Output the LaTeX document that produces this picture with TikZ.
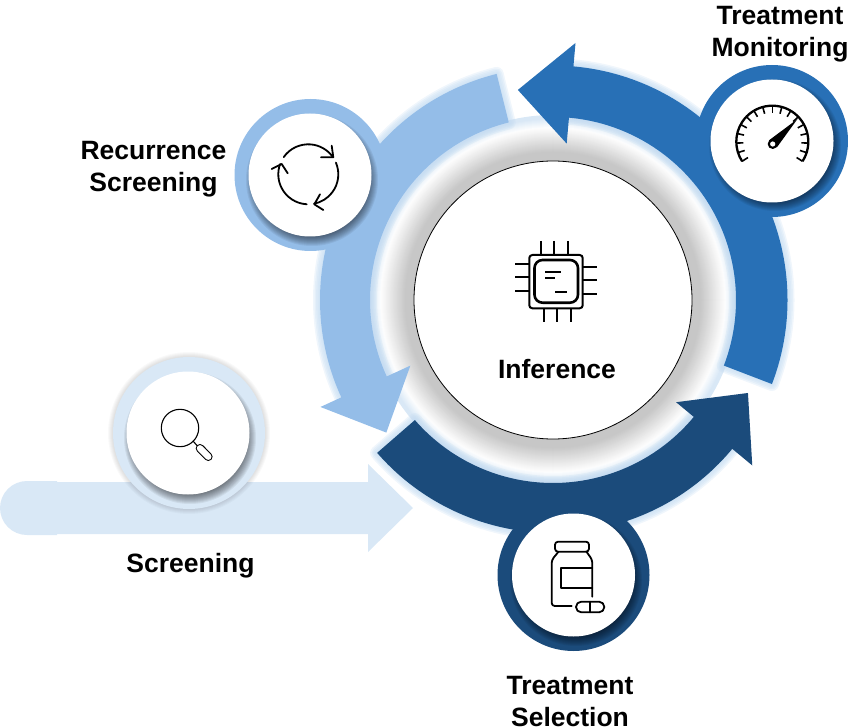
\documentclass[tikz,border=0pt]{standalone}
\usepackage{fontspec}
\setmainfont{Liberation Sans}
\definecolor{cmid}{HTML}{2870B6}
\definecolor{clight}{HTML}{94BDE8}
\definecolor{cdark}{HTML}{1B4B7B}
\definecolor{cpale}{HTML}{D9E8F6}
\definecolor{cglow}{HTML}{C4DCF2}
\tikzset{
  lab/.style={font=\fontsize{26.5}{32}\selectfont\bfseries,align=center,inner sep=0pt,text=black},
  ringnode/.style={circle,minimum size=152pt,inner sep=0pt,outer sep=0pt},
  whitenode/.style={circle,fill=white,minimum size=123pt,inner sep=0pt,outer sep=0pt},
  ico/.style={draw=black,line width=1.8pt,line cap=round,line join=round},
  icot/.style={draw=black,line width=1.1pt,line cap=round,line join=round},
}
% shadow below a white disc
\newcommand{\discshadow}[3]{%
  \foreach \k in {0,...,9}{%
    \pgfmathsetmacro{\rr}{#3+5-\k*1.0}%
    \fill[black,opacity=0.06] (#1,#2) circle[radius=\rr pt];
  }}
% glow of the band part, then the fill of the whole ring-arrow
\newcommand{\glowarrow}[3]{%
  \foreach \w in {14,11,8,5,2}{%
    \draw[cglow,line width=\w pt,opacity=0.26,line join=round] #2;
  }
  \fill[#1] #3;
}
\begin{document}
\begin{tikzpicture}[x=1pt,y=-1pt]
\useasboundingbox (0,0) rectangle (848,727);

% grey ring around the hub
\foreach \r in {185,184,...,172}{%
  \pgfmathsetmacro{\p}{max(0,min(100,(\r-172)*10))}%
  \fill[cpale!\p!white] (553,300) circle[radius=\r pt];
}
\foreach \r in {172,171,...,148}{%
  \pgfmathsetmacro{\p}{1+(172-\r)*0.88}%
  \fill[black!\p!white] (553,300) circle[radius=\r pt];
}

% screening arrow
\fill[cpale] (57,481) -- (57,535) -- (27,535) arc[start angle=270,end angle=90,radius=27pt] -- cycle;
\fill[cpale] (40,482) -- (368,482) -- (368,464) -- (413,508) -- (368,552) -- (368,534) -- (40,534) -- cycle;

% hub
\node[circle,draw=black,line width=0.8pt,fill=white,minimum size=278pt,inner sep=0pt] (hub) at (553,300) {};

% ring arrows
\begin{scope}[shift={(553,300)},x=1pt,y=1pt]
\glowarrow{cmid}{(-21:234.5pt) arc[start angle=-21,end angle=85,radius=234.5pt] -- (85:183pt) arc[start angle=85,end angle=-21,radius=183pt] -- cycle}{(-21:234.5pt) arc[start angle=-21,end angle=85,radius=234.5pt] -- (85:258pt) -- (99.5:213pt) -- (85:157pt) -- (85:183pt) arc[start angle=85,end angle=-21,radius=183pt] -- cycle}
\glowarrow{clight}{(104:233pt) arc[start angle=104,end angle=204.7,radius=233pt] -- (204.7:183pt) arc[start angle=204.7,end angle=104,radius=183pt] -- cycle}{(104:233pt) arc[start angle=104,end angle=204.7,radius=233pt] -- (204.7:256pt) -- (218.5:213pt) -- (204.7:157pt) -- (204.7:183pt) arc[start angle=204.7,end angle=104,radius=183pt] -- cycle}
\glowarrow{cdark}{(221:233pt) arc[start angle=221,end angle=320.3,radius=233pt] -- (320.3:183pt) arc[start angle=320.3,end angle=221,radius=183pt] -- cycle}{(221:233pt) arc[start angle=221,end angle=320.3,radius=233pt] -- (320.3:259pt) -- (334.5:216pt) -- (320.3:160pt) -- (320.3:183pt) arc[start angle=320.3,end angle=221,radius=183pt] -- cycle}
\end{scope}

% badges
\foreach \k in {0,...,5}{%
  \pgfmathsetmacro{\rr}{81-\k*1.0}%
  \fill[black,opacity=0.022] (189,433) circle[radius=\rr pt];
}
\node[ringnode,fill=cpale] (scrring) at (189,433) {};
\node[ringnode,fill=clight] (recring) at (310.5,175) {};
\node[ringnode,fill=cmid] (monring) at (772,141) {};
\node[ringnode,fill=cdark] (selring) at (573.5,575) {};

\begin{scope}
\clip (189,433) circle[radius=76pt];
\discshadow{190}{438}{61}
\end{scope}
\begin{scope}
\clip (310.5,175) circle[radius=76pt];
\discshadow{312}{180}{61}
\end{scope}
\begin{scope}
\clip (772,141) circle[radius=76pt];
\discshadow{775}{145}{61}
\end{scope}
\begin{scope}
\clip (573.5,575) circle[radius=76pt];
\discshadow{576}{580}{61}
\end{scope}

\node[whitenode] (scr) at (188,433) {};
\node[whitenode] (rec) at (310,175) {};
\node[whitenode] (mon) at (772,141) {};
\node[whitenode] (sel) at (573.5,575) {};

% chip icon
\draw[ico,line width=2pt,rounded corners=3pt] (529.3,255) rectangle (582.7,308.3);
\draw[ico,line width=2.6pt,rounded corners=8pt] (534.5,260) rectangle (578,302.7);
\foreach \xx in {541,554.3,568}{\draw[black,line width=2.2pt] (\xx,241) -- (\xx,255);}
\foreach \xx in {543.7,557.3,571}{\draw[black,line width=2.2pt] (\xx,308.3) -- (\xx,322.3);}
\foreach \yy in {263.7,277.3,291}{\draw[black,line width=2.2pt] (515.3,\yy) -- (529.3,\yy);}
\foreach \yy in {266.7,280.3,293.7}{\draw[black,line width=2.2pt] (582.7,\yy) -- (596.7,\yy);}
\draw[black,line width=1.8pt] (545,271.7) -- (560.7,271.7) (545,277.7) -- (554.7,277.7) (555.3,291.7) -- (566.7,291.7);

% magnifier icon
\draw[icot] (180,428) circle[radius=18.7pt];
\draw[icot] (193,441) -- (197,445.5);
\draw[black,line width=8.6pt,line cap=round] (200,448.3) -- (208.3,456.7);
\draw[white,line width=6.4pt,line cap=round] (200,448.3) -- (208.3,456.7);

% refresh icon
\begin{scope}[shift={(308.3,174.3)},x=1pt,y=1pt]
\draw[ico] (145:30pt) arc[start angle=145,end angle=35,radius=30pt];
\draw[ico] (23:30pt) arc[start angle=23,end angle=-79,radius=30pt];
\draw[ico] (-93:30pt) arc[start angle=-93,end angle=-200,radius=30pt];
\end{scope}
\draw[ico] (321,157.3) -- (333.3,157.3) -- (331.7,145.7);
\draw[ico] (323.3,210) -- (314.3,204.3) -- (320,194.3);
\draw[ico] (271.7,169) -- (281.7,164) -- (287.7,173.3);

% gauge icon
\begin{scope}[shift={(772.3,141.7)},x=1pt,y=1pt]
\draw[black,line width=2.3pt] (-33:36pt) arc[start angle=-33,end angle=213,radius=36pt];
\foreach \a in {-33,-17.625,...,213}{\draw[black,line width=1.6pt] (\a:36pt) -- (\a:29pt);}
\fill[black] (-3.4,1.3) -- (25,22.5) -- (4.6,-5.6) -- cycle;
\fill[black] (0.4,-2.3) circle[radius=5pt];
\fill[white] (0.4,-2.3) circle[radius=2.6pt];
\end{scope}

% bottle icon
\draw[ico,rounded corners=3pt] (555,541.7) rectangle (589,551.7);
\draw[ico,rounded corners=3pt] (558.5,551.7) -- (551.7,560) -- (551.7,606) -- (571.7,606);
\draw[ico,rounded corners=3pt] (586.5,551.7) -- (592.3,560) -- (592.3,596.7);
\draw[ico] (592.3,568.3) -- (560.7,568.3) -- (560.7,587.7) -- (592.3,587.7);
\draw[ico,rounded corners=5.2pt] (576,601.7) rectangle (604.3,612.3);
\draw[ico] (590,601.7) -- (590,612.3);

% labels
\node[lab] (tinf) at (557,369.5) {Inference};
\node[lab] (tscr) at (190.5,566) {Screening};
\node[lab] (trec) at (153.5,169.5) {Recurrence\\Screening};
\node[lab] (tmon) at (780,34) {Treatment\\Monitoring};
\node[lab] (tsel) at (570,701.5) {Treatment\\Selection};
\end{tikzpicture}
\end{document}
